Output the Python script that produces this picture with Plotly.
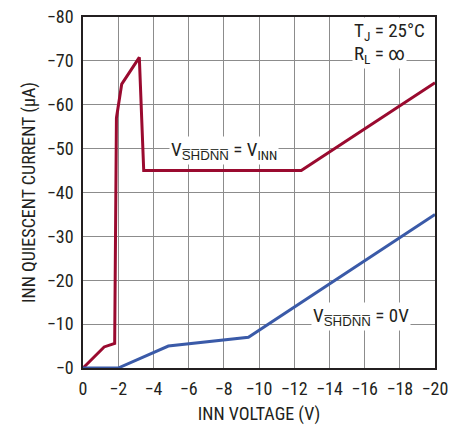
import plotly.graph_objects as go

# Data (x = INN voltage in V, y = INN quiescent current in µA)
shdn_inn_v = [0, -1.2, -1.8, -1.9, -2.2, -3.2, -3.45, -12.4, -20]
shdn_inn_i = [0, -4.8, -5.6, -57, -64.7, -70.8, -45, -45, -65]
shdn_0_v = [0, -2.0, -4.85, -9.4, -20]
shdn_0_i = [0, 0, -5.0, -7.0, -35]

x_ticks = [0, -2, -4, -6, -8, -10, -12, -14, -16, -18, -20]
x_labels = ["0", "\u22122", "\u22124", "\u22126", "\u22128", "\u221210", "\u221212", "\u221214", "\u221216", "\u221218", "\u221220"]
y_ticks = [0, -10, -20, -30, -40, -50, -60, -70, -80]
y_labels = ["\u22120", "\u221210", "\u221220", "\u221230", "\u221240", "\u221250", "\u221260", "\u221270", "\u221280"]

RED = "#9a0a2f"
BLUE = "#3a5aa8"
TXT = "#231f20"
FONT = "Roboto Condensed, Liberation Sans, Arial"

fig = go.Figure()
fig.add_trace(go.Scatter(x=shdn_inn_v, y=shdn_inn_i, mode="lines",
                         line=dict(color=RED, width=3), showlegend=False))
fig.add_trace(go.Scatter(x=shdn_0_v, y=shdn_0_i, mode="lines",
                         line=dict(color=BLUE, width=3), showlegend=False))

ov = "S\u0305H\u0305D\u0305N\u0305N\u0305"
fig.add_annotation(x=-8.0, y=-49.5, text="V<sub>" + ov + "</sub> = V<sub>INN</sub>",
                   showarrow=False, bgcolor="white", font=dict(family=FONT, size=19, color=TXT))
fig.add_annotation(x=-15.8, y=-11.8, text="V<sub>" + ov + "</sub> = 0V",
                   showarrow=False, bgcolor="white", font=dict(family=FONT, size=19, color=TXT))
fig.add_annotation(x=-15.3, y=-71.4, xanchor="left", yanchor="middle",
                   text="R<sub>L</sub> = \u221e", align="left",
                   showarrow=False, bgcolor="white", font=dict(family=FONT, size=19, color=TXT))
fig.add_annotation(x=-15.3, y=-76.6, xanchor="left", yanchor="middle",
                   text="T<sub>J</sub> = 25°C", align="left",
                   showarrow=False, bgcolor="white", font=dict(family=FONT, size=19, color=TXT))

axis_common = dict(showgrid=True, gridcolor="#8c8c8c", gridwidth=1.3,
                   showline=True, linecolor="#231f20", linewidth=1.5, mirror=True,
                   ticks="", zeroline=False, automargin=False,
                   tickfont=dict(family=FONT, size=18, color=TXT),
                   title_font=dict(family=FONT, size=18, color=TXT))

fig.update_xaxes(range=[0, -20], tickvals=x_ticks, ticktext=x_labels, ticklabelstandoff=4,
                 title_text="INN VOLTAGE (V)", title_standoff=13, **axis_common)
fig.update_yaxes(range=[0, -80], tickvals=y_ticks, ticktext=y_labels, ticklabelstandoff=4,
                 title_text="INN QUIESCENT CURRENT (\u00b5A)", title_standoff=7, **axis_common)

fig.update_layout(width=461, height=425, margin=dict(l=83, r=26, t=17, b=57),
                  plot_bgcolor="white", paper_bgcolor="white",
                  font=dict(family=FONT, size=18, color=TXT))

fig.write_html("out.html", config={"displayModeBar": False},
               post_script="document.body.style.margin='0px';document.body.style.overflow='hidden';")
